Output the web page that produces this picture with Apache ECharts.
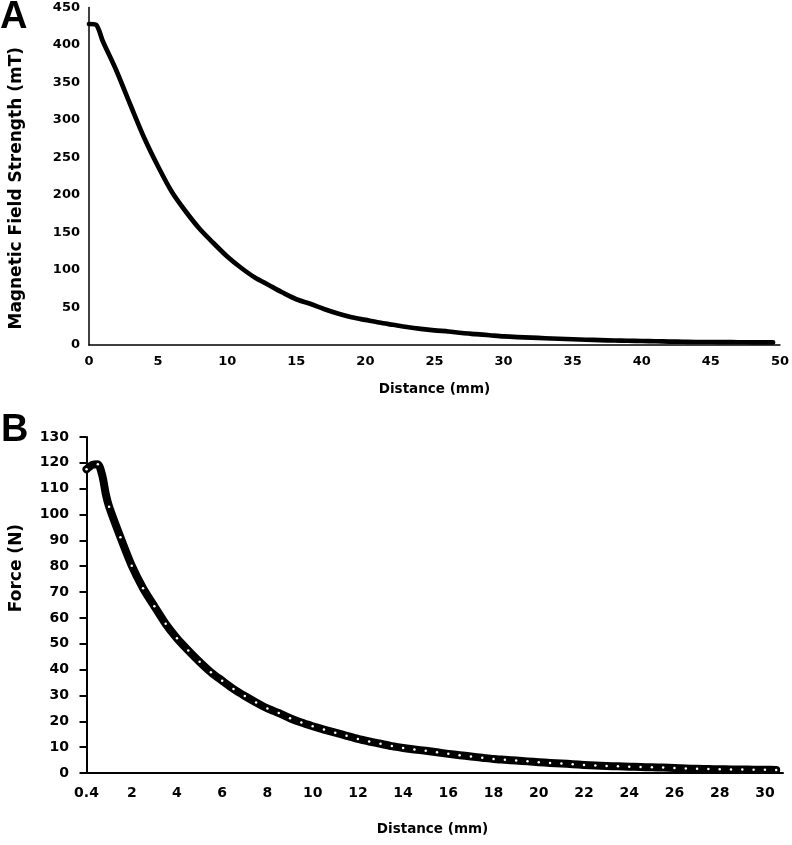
<!DOCTYPE html>
<html>
<head>
<meta charset="utf-8">
<script src="https://cdn.jsdelivr.net/npm/echarts@6/dist/echarts.min.js"></script>
<style>
html,body{margin:0;padding:0;background:#fff;}
#c{width:792px;height:845px;}
</style>
</head>
<body>
<div id="c"></div>
<script>
// Panel A: magnetic field strength vs distance
const aDist  = [0,0.5,1,2,3,4,5,6,7,8,9,10,11,12,13,14,15,16,17,18,19,20,21,22,23,24,25,26,27,28,29,30,31,32,33,34,35,36,37,38,39,40,41,42,43,44,45,46,47,48,49,49.5];
const aField = [428,427,405,365,320,276,238,204,178,155,136,118,103,90,80,70,61,55,48,42,37,33.5,30,27,24,21.5,19.5,18,16,14.5,13,11.5,10.5,9.8,9,8.3,7.7,7,6.5,6,5.7,5.3,5,4.6,4.3,4,4,3.8,3.7,3.6,3.5,3.5];
const aXTicks = [0,5,10,15,20,25,30,35,40,45,50];
const aYTicks = [0,50,100,150,200,250,300,350,400,450];

// Panel B: force vs distance (measured points, shown with white dots)
const bDist  = [0,0.5,1,1.5,2,2.5,3,3.5,4,4.5,5,5.5,6,6.5,7,7.5,8,8.5,9,9.5,10,10.5,11,11.5,12,12.5,13,13.5,14,14.5,15,15.5,16,16.5,17,17.5,18,18.5,19,19.5,20,20.5,21,21.5,22,22.5,23,23.5,24,24.5,25,25.5,26,26.5,27,27.5,28,28.5,29,29.5,30,30.5];
const bForce = [117.5,119.5,103,91.2,80.2,71.5,64.5,57.7,52.1,47.4,43,39,35.7,32.5,29.8,27.3,25,23.2,21.2,19.5,18.1,16.8,15.6,14.4,13.2,12.2,11.3,10.4,9.7,9.1,8.6,8.0,7.4,6.9,6.4,5.9,5.4,5.1,4.8,4.5,4.2,3.9,3.7,3.4,3.1,2.9,2.7,2.6,2.45,2.3,2.2,2.1,1.9,1.75,1.6,1.5,1.45,1.4,1.35,1.3,1.25,1.2];
// extra points tracing the peak between the dots
const bPeakDist  = [0.25,0.7,0.85];
const bPeakForce = [119.2,115,108];
const bXTickPos    = [0,2,4,6,8,10,12,14,16,18,20,22,24,26,28,30];
const bXTickLabels = ['0.4','2','4','6','8','10','12','14','16','18','20','22','24','26','28','30'];
const bYTicks = [0,10,20,30,40,50,60,70,80,90,100,110,120,130];

const tickFont = {fontFamily:'DejaVu Sans', fontWeight:'bold', fontSize:13, color:'#000'};
const nameFont = {fontFamily:'DejaVu Sans', fontWeight:'bold', fontSize:13.5, color:'#000'};

const bData = bDist.map((d,i)=>({value:[d,bForce[i]]}))
  .concat(bPeakDist.map((d,i)=>({value:[d,bPeakForce[i]], symbol:'none'})))
  .sort((p,q)=>p.value[0]-q.value[0]);

const chart = echarts.init(document.getElementById('c'), null, {renderer:'canvas'});
chart.setOption({
  animation:false,
  backgroundColor:'#fff',
  graphic:[
    {type:'text', left:0, top:-1, style:{text:'A', font:'bold 38px "Liberation Sans"', fill:'#000'}},
    {type:'text', left:1, top:412, style:{text:'B', font:'bold 38px "Liberation Sans"', fill:'#000'}}
  ],
  grid:[
    {left:87, right:5, top:7.5, height:337.5},
    {left:80, right:9, top:437, height:336}
  ],
  xAxis:[
    {gridIndex:0, type:'value', min:aXTicks[0], max:aXTicks[aXTicks.length-1], interval:5,
     axisLine:{lineStyle:{color:'#000', width:1.5}}, axisTick:{show:false}, splitLine:{show:false},
     axisLabel:{...tickFont, margin:10},
     name:'Distance (mm)', nameLocation:'middle', nameGap:37, nameTextStyle:nameFont},
    {gridIndex:1, type:'value', min:-0.2, max:30.8,
     axisLine:{lineStyle:{color:'#000', width:2}}, axisTick:{show:false}, splitLine:{show:false},
     axisLabel:{...tickFont, fontSize:14, margin:13, showMinLabel:true, showMaxLabel:true,
       customValues:bXTickPos,
       formatter:function(v){ const i = bXTickPos.indexOf(v); return i>=0 ? bXTickLabels[i] : ''; }},
     name:'Distance (mm)', nameLocation:'middle', nameGap:49, nameTextStyle:nameFont}
  ],
  yAxis:[
    {gridIndex:0, type:'value', min:aYTicks[0], max:aYTicks[aYTicks.length-1], interval:50,
     axisLine:{show:true, lineStyle:{color:'#000', width:1.5}}, axisTick:{show:false}, splitLine:{show:false},
     axisLabel:{...tickFont, margin:9},
     name:'Magnetic Field Strength (mT)', nameLocation:'middle', nameGap:64,
     nameTextStyle:{fontFamily:'DejaVu Sans', fontWeight:'bold', fontSize:17, color:'#000', padding:[0,24,0,0]}},
    {gridIndex:1, type:'value', min:bYTicks[0], max:bYTicks[bYTicks.length-1], interval:10,
     axisLine:{show:true, lineStyle:{color:'#000', width:2}},
     axisTick:{show:true, length:7, lineStyle:{color:'#000', width:2}}, splitLine:{show:false},
     axisLabel:{...tickFont, fontSize:14, margin:13},
     name:'Force (N)', nameLocation:'middle', nameGap:57,
     nameTextStyle:{fontFamily:'DejaVu Sans', fontWeight:'bold', fontSize:17, color:'#000', padding:[0,0,0,74]}}
  ],
  series:[
    {type:'line', xAxisIndex:0, yAxisIndex:0, data:aDist.map((d,i)=>[d,aField[i]]),
     showSymbol:false, symbol:'none', smooth:0.3,
     lineStyle:{color:'#000', width:4.7, join:'round', cap:'round'}},
    {type:'line', xAxisIndex:1, yAxisIndex:1, data:bData,
     symbol:'circle', symbolSize:2.5, showSymbol:true, showAllSymbol:true,
     smooth:0.25,
     itemStyle:{color:'#fff', borderWidth:0},
     lineStyle:{color:'#000', width:8, join:'round', cap:'round'}}
  ]
});
</script>
</body>
</html>
